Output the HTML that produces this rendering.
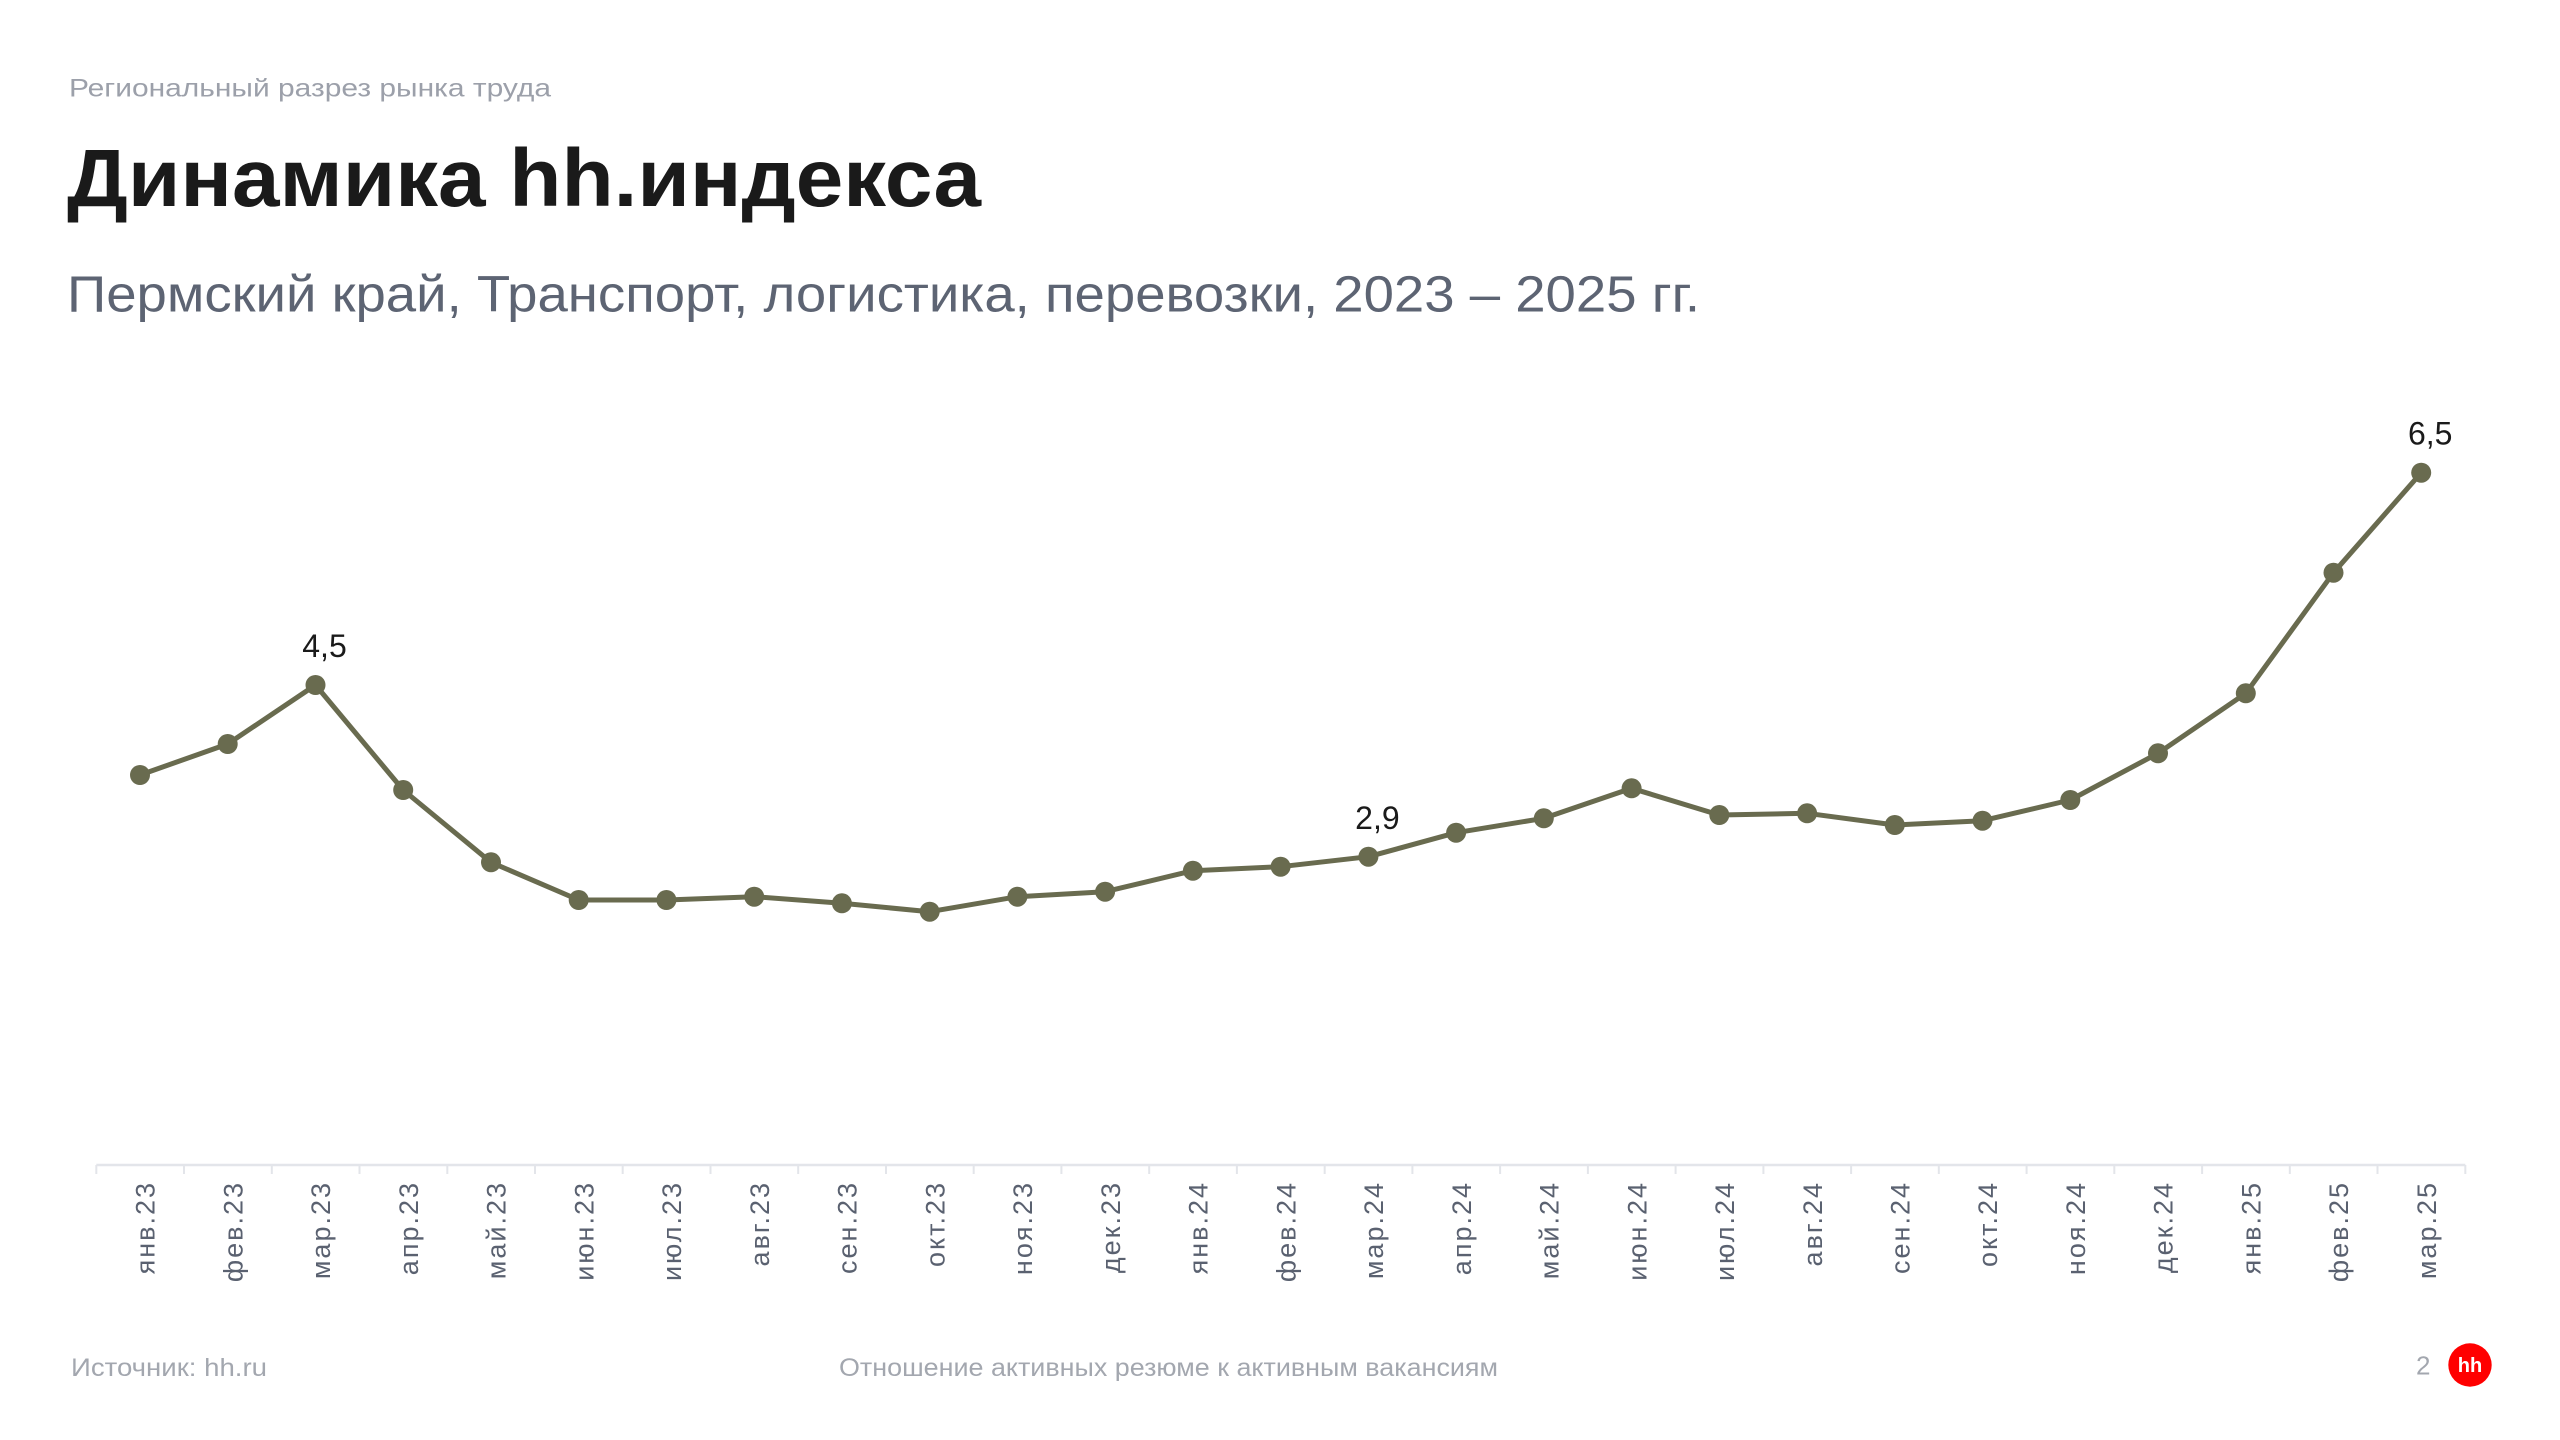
<!DOCTYPE html>
<html>
<head>
<meta charset="utf-8">
<style>
html,body{margin:0;padding:0;background:#fff;}
svg{display:block;}
text{font-family:"Liberation Sans","Noto Sans CJK SC",sans-serif;}
</style>
</head>
<body>
<svg width="2560" height="1440" viewBox="0 0 2560 1440" xmlns="http://www.w3.org/2000/svg">
<rect width="2560" height="1440" fill="#ffffff"/>

<!-- Header -->
<text x="69" y="96.7" font-size="25" fill="#9ca0aa" textLength="482" lengthAdjust="spacingAndGlyphs">Региональный разрез рынка труда</text>
<text x="67" y="206" font-size="82" font-weight="bold" fill="#1a1a1a" textLength="914" lengthAdjust="spacingAndGlyphs">Динамика hh.индекса</text>
<text x="67" y="311.7" font-size="51" fill="#5d6473" textLength="1633" lengthAdjust="spacingAndGlyphs">Пермский край, Транспорт, логистика, перевозки, 2023 – 2025 гг.</text>

<!-- Axis -->
<line x1="96.3" y1="1165" x2="2465.3" y2="1165" stroke="#e3e5ea" stroke-width="2.5"/>
<g stroke="#e3e5ea" stroke-width="2">
<line x1="96.3" y1="1165" x2="96.3" y2="1174"/>
<line x1="184.0" y1="1165" x2="184.0" y2="1174"/>
<line x1="271.8" y1="1165" x2="271.8" y2="1174"/>
<line x1="359.5" y1="1165" x2="359.5" y2="1174"/>
<line x1="447.3" y1="1165" x2="447.3" y2="1174"/>
<line x1="535.0" y1="1165" x2="535.0" y2="1174"/>
<line x1="622.7" y1="1165" x2="622.7" y2="1174"/>
<line x1="710.5" y1="1165" x2="710.5" y2="1174"/>
<line x1="798.2" y1="1165" x2="798.2" y2="1174"/>
<line x1="886.0" y1="1165" x2="886.0" y2="1174"/>
<line x1="973.7" y1="1165" x2="973.7" y2="1174"/>
<line x1="1061.4" y1="1165" x2="1061.4" y2="1174"/>
<line x1="1149.2" y1="1165" x2="1149.2" y2="1174"/>
<line x1="1236.9" y1="1165" x2="1236.9" y2="1174"/>
<line x1="1324.7" y1="1165" x2="1324.7" y2="1174"/>
<line x1="1412.4" y1="1165" x2="1412.4" y2="1174"/>
<line x1="1500.1" y1="1165" x2="1500.1" y2="1174"/>
<line x1="1587.9" y1="1165" x2="1587.9" y2="1174"/>
<line x1="1675.6" y1="1165" x2="1675.6" y2="1174"/>
<line x1="1763.4" y1="1165" x2="1763.4" y2="1174"/>
<line x1="1851.1" y1="1165" x2="1851.1" y2="1174"/>
<line x1="1938.8" y1="1165" x2="1938.8" y2="1174"/>
<line x1="2026.6" y1="1165" x2="2026.6" y2="1174"/>
<line x1="2114.3" y1="1165" x2="2114.3" y2="1174"/>
<line x1="2202.1" y1="1165" x2="2202.1" y2="1174"/>
<line x1="2289.8" y1="1165" x2="2289.8" y2="1174"/>
<line x1="2377.5" y1="1165" x2="2377.5" y2="1174"/>
<line x1="2465.3" y1="1165" x2="2465.3" y2="1174"/>
</g>

<!-- Axis labels -->
<g font-size="27" fill="#5a6170" text-anchor="end" letter-spacing="2">
<text transform="translate(154.7,1181) rotate(-90)">янв.23</text>
<text transform="translate(242.4,1181) rotate(-90)">фев.23</text>
<text transform="translate(330.2,1181) rotate(-90)">мар.23</text>
<text transform="translate(417.9,1181) rotate(-90)">апр.23</text>
<text transform="translate(505.7,1181) rotate(-90)">май.23</text>
<text transform="translate(593.4,1181) rotate(-90)">июн.23</text>
<text transform="translate(681.1,1181) rotate(-90)">июл.23</text>
<text transform="translate(768.9,1181) rotate(-90)">авг.23</text>
<text transform="translate(856.6,1181) rotate(-90)">сен.23</text>
<text transform="translate(944.4,1181) rotate(-90)">окт.23</text>
<text transform="translate(1032.1,1181) rotate(-90)">ноя.23</text>
<text transform="translate(1119.8,1181) rotate(-90)">дек.23</text>
<text transform="translate(1207.6,1181) rotate(-90)">янв.24</text>
<text transform="translate(1295.3,1181) rotate(-90)">фев.24</text>
<text transform="translate(1383.1,1181) rotate(-90)">мар.24</text>
<text transform="translate(1470.8,1181) rotate(-90)">апр.24</text>
<text transform="translate(1558.5,1181) rotate(-90)">май.24</text>
<text transform="translate(1646.3,1181) rotate(-90)">июн.24</text>
<text transform="translate(1734.0,1181) rotate(-90)">июл.24</text>
<text transform="translate(1821.8,1181) rotate(-90)">авг.24</text>
<text transform="translate(1909.5,1181) rotate(-90)">сен.24</text>
<text transform="translate(1997.2,1181) rotate(-90)">окт.24</text>
<text transform="translate(2085.0,1181) rotate(-90)">ноя.24</text>
<text transform="translate(2172.7,1181) rotate(-90)">дек.24</text>
<text transform="translate(2260.5,1181) rotate(-90)">янв.25</text>
<text transform="translate(2348.2,1181) rotate(-90)">фев.25</text>
<text transform="translate(2435.9,1181) rotate(-90)">мар.25</text>
</g>

<!-- Series -->
<polyline fill="none" stroke="#696b4f" stroke-width="5" stroke-linejoin="round" stroke-linecap="round"
points="140,775 227.7,744 315.5,685 403.2,790 491,862.3 578.7,900 666.4,900 754.2,896.7 841.9,903.3 929.7,911.7 1017.4,896.7 1105.1,891.7 1192.9,870.7 1280.6,866.7 1368.4,856.7 1456.1,832.7 1543.8,818.3 1631.6,788.3 1719.3,815 1807.1,813.3 1894.8,825 1982.5,820.7 2070.3,800 2158,753.3 2245.8,693.3 2333.5,572.7 2421.2,472.7"/>
<g fill="#696b4f">
<circle cx="140" cy="775" r="10"/>
<circle cx="227.7" cy="744" r="10"/>
<circle cx="315.5" cy="685" r="10"/>
<circle cx="403.2" cy="790" r="10"/>
<circle cx="491" cy="862.3" r="10"/>
<circle cx="578.7" cy="900" r="10"/>
<circle cx="666.4" cy="900" r="10"/>
<circle cx="754.2" cy="896.7" r="10"/>
<circle cx="841.9" cy="903.3" r="10"/>
<circle cx="929.7" cy="911.7" r="10"/>
<circle cx="1017.4" cy="896.7" r="10"/>
<circle cx="1105.1" cy="891.7" r="10"/>
<circle cx="1192.9" cy="870.7" r="10"/>
<circle cx="1280.6" cy="866.7" r="10"/>
<circle cx="1368.4" cy="856.7" r="10"/>
<circle cx="1456.1" cy="832.7" r="10"/>
<circle cx="1543.8" cy="818.3" r="10"/>
<circle cx="1631.6" cy="788.3" r="10"/>
<circle cx="1719.3" cy="815" r="10"/>
<circle cx="1807.1" cy="813.3" r="10"/>
<circle cx="1894.8" cy="825" r="10"/>
<circle cx="1982.5" cy="820.7" r="10"/>
<circle cx="2070.3" cy="800" r="10"/>
<circle cx="2158" cy="753.3" r="10"/>
<circle cx="2245.8" cy="693.3" r="10"/>
<circle cx="2333.5" cy="572.7" r="10"/>
<circle cx="2421.2" cy="472.7" r="10"/>
</g>

<!-- Value labels -->
<g font-size="32" fill="#1a1a1a" text-anchor="middle">
<text x="324.5" y="657">4,5</text>
<text x="1377.4" y="829">2,9</text>
<text x="2430.2" y="444.7">6,5</text>
</g>

<!-- Footer -->
<text x="71" y="1376" font-size="25" fill="#a3a7af" textLength="196" lengthAdjust="spacingAndGlyphs">Источник: hh.ru</text>
<text x="839" y="1376" font-size="25" fill="#a3a7af" textLength="659" lengthAdjust="spacingAndGlyphs">Отношение активных резюме к активным вакансиям</text>
<text x="2416" y="1374.3" font-size="26" fill="#a3a7af">2</text>
<circle cx="2470" cy="1365" r="21.7" fill="#ff0000"/>
<text x="2470" y="1372" font-size="20" font-weight="bold" fill="#ffffff" text-anchor="middle">hh</text>
</svg>
</body>
</html>
